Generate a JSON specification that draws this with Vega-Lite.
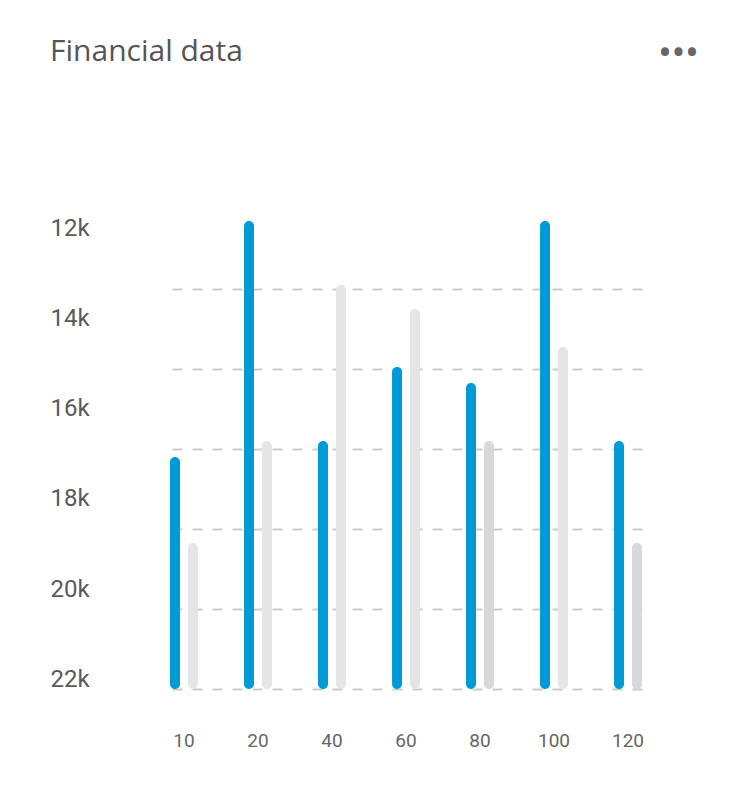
{
  "$schema": "https://vega.github.io/schema/vega-lite/v6.json",
  "width": 472,
  "height": 480,
  "autosize": {"type": "none"},
  "padding": {"left": 170, "top": 209, "right": 88, "bottom": 109},
  "background": "white",
  "config": {
    "view": {"stroke": null},
    "font": "Roboto"
  },
  "title": {
    "text": "Financial data",
    "anchor": "start",
    "frame": "group",
    "font": "Open Sans",
    "fontSize": 30,
    "fontWeight": "normal",
    "color": "#555555",
    "baseline": "alphabetic",
    "dx": -120,
    "offset": -57
  },
  "layer": [
    {
      "data": {"values": [
        {"k": 12}, {"k": 14}, {"k": 16}, {"k": 18}, {"k": 20}, {"k": 22}
      ]},
      "mark": {"type": "point", "opacity": 0},
      "encoding": {
        "y": {
          "field": "k",
          "type": "quantitative",
          "scale": {"domain": [11.5556, 22.2222], "reverse": true, "nice": false, "zero": false},
          "axis": {
            "orient": "left",
            "values": [12, 14, 16, 18, 20, 22],
            "labelExpr": "datum.value + 'k'",
            "grid": false,
            "ticks": false,
            "domain": false,
            "labelAlign": "left",
            "labelPadding": 120,
            "labelFontSize": 24,
            "labelColor": "#5a5a5a",
            "title": null
          }
        }
      }
    },
    {
      "data": {"values": [
        {"cat": "10", "series": "A", "value": 58},
        {"cat": "10", "series": "B", "value": 36.5},
        {"cat": "20", "series": "A", "value": 117},
        {"cat": "20", "series": "B", "value": 62},
        {"cat": "40", "series": "A", "value": 62},
        {"cat": "40", "series": "B", "value": 101},
        {"cat": "60", "series": "A", "value": 80.5},
        {"cat": "60", "series": "B", "value": 95},
        {"cat": "80", "series": "A", "value": 76.5},
        {"cat": "80", "series": "B", "value": 62},
        {"cat": "100", "series": "A", "value": 117},
        {"cat": "100", "series": "B", "value": 85.5},
        {"cat": "120", "series": "A", "value": 62},
        {"cat": "120", "series": "B", "value": 36.5}
      ]},
      "mark": {"type": "bar", "cornerRadius": 5},
      "encoding": {
        "x": {
          "field": "cat",
          "type": "ordinal",
          "sort": ["10", "20", "40", "60", "80", "100", "120"],
          "scale": {"paddingInner": 0.622, "paddingOuter": 0},
          "axis": {
            "labelAngle": 0,
            "ticks": false,
            "domain": false,
            "grid": false,
            "labelPadding": 42,
            "labelFontSize": 19,
            "labelColor": "#666666",
            "title": null
          }
        },
        "xOffset": {
          "field": "series",
          "type": "nominal",
          "sort": ["A", "B"],
          "scale": {"paddingInner": 0.444, "paddingOuter": 0}
        },
        "y": {
          "field": "value",
          "type": "quantitative",
          "scale": {"domain": [0, 120], "nice": false},
          "axis": {
            "orient": "right",
            "values": [0, 20, 40, 60, 80, 100],
            "labels": false,
            "ticks": false,
            "domain": false,
            "grid": true,
            "gridDash": [10, 10],
            "gridColor": "#cccccc",
            "gridWidth": 2,
            "title": "•••",
            "titleAngle": 0,
            "titleFontSize": 40,
            "titleFontWeight": "normal",
            "titleColor": "#666666",
            "titleAlign": "center",
            "titleBaseline": "middle",
            "titleX": 36,
            "titleY": -155
          }
        },
        "color": {
          "condition": [
            {"test": "datum.series == 'A'", "value": "#009bd6"},
            {"test": "datum.cat == '80' || datum.cat == '120'", "value": "#d8d7d9"}
          ],
          "value": "#e5e4e7"
        }
      }
    }
  ],
  "resolve": {"scale": {"y": "independent"}, "axis": {"y": "independent"}}
}
